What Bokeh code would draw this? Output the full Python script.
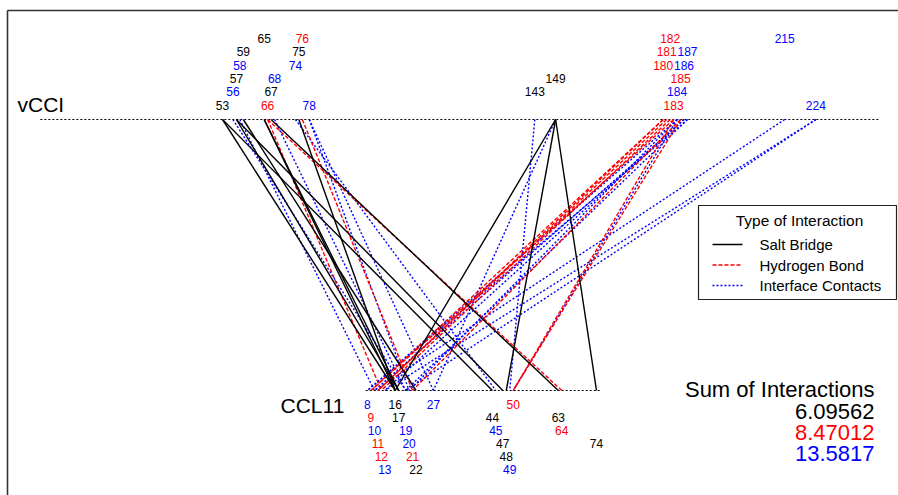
from bokeh.plotting import figure
from bokeh.models import Range1d, ColumnDataSource
from bokeh.embed import file_html
from bokeh.resources import INLINE
from bokeh.core.properties import value

# Residues along each chain and the interaction class used to colour each label
# (S = salt bridge, H = hydrogen bond, C = interface contact)
vcci_res = [53, 56, 57, 58, 59, 65, 66, 67, 68, 74, 75, 76, 78,
            143, 149, 180, 181, 182, 183, 184, 185, 186, 187, 215, 224]
vcci_type = ["S", "C", "S", "C", "S", "S", "H", "S", "C", "C", "S", "H", "C",
             "S", "S", "H", "H", "H", "H", "C", "H", "C", "C", "C", "C"]
ccl11_res = [8, 9, 10, 11, 12, 13, 16, 17, 19, 20, 21, 22, 27,
             44, 45, 47, 48, 49, 50, 63, 64, 74]
ccl11_type = ["C", "H", "C", "H", "H", "C", "S", "S", "C", "C", "H", "S", "C",
              "S", "C", "S", "S", "C", "H", "S", "H", "S"]

# Interacting pairs (vCCI residue, CCL11 residue)
salt_bridges = [(53, 44), (57, 47), (53, 16), (57, 17), (59, 22), (65, 16),
                (65, 17), (67, 63), (75, 16), (149, 16), (149, 48), (149, 74)]
h_bonds = [(66, 64), (66, 12), (76, 21), (180, 9), (181, 11), (182, 12),
           (183, 9), (183, 50), (185, 50), (185, 21), (180, 11)]
contacts = [(56, 19), (58, 10), (68, 19), (74, 45), (78, 27), (78, 20),
            (184, 8), (184, 50), (186, 10), (186, 13), (187, 19), (187, 8),
            (184, 20), (215, 10), (224, 13), (224, 19), (149, 27), (143, 49)]

interaction_names = ["Salt Bridge", "Hydrogen Bond", "Interface Contacts"]
interaction_sums = [6.09562, 8.47012, 13.5817]

# ---- layout of the two chains on the canvas ----
PX_PER_RES = 3.47
TOP_X0, TOP_Y = 38.1, 119.0        # vCCI baseline
BOT_X0, BOT_Y = 339.2, 390.0       # CCL11 baseline
FONT = "Liberation Sans"
COLORS = {"S": "#000000", "H": "#ff0000", "C": "#0000ff"}
DASHES = {"S": "solid", "H": "4 2", "C": "2 2"}


def top_x(r):
    return TOP_X0 + r * PX_PER_RES


def bot_x(r):
    return BOT_X0 + r * PX_PER_RES


p = figure(width=898, height=495, output_backend="svg", toolbar_location=None,
           x_range=Range1d(0, 898), y_range=Range1d(495, 0),
           min_border=0, outline_line_color=None)
p.axis.visible = False
p.grid.visible = False
p.background_fill_color = "white"

# frame edges
p.segment(x0=[7, 7], y0=[10, 10], x1=[898, 7], y1=[10, 495],
          line_color="#333333", line_width=1.6)

# chain baselines
p.segment(x0=[top_x(0.5)], y0=[TOP_Y], x1=[top_x(242)], y1=[TOP_Y],
          line_color="black", line_dash="2 2", line_width=1)
p.segment(x0=[bot_x(7.5)], y0=[BOT_Y], x1=[bot_x(75.5)], y1=[BOT_Y],
          line_color="black", line_dash="2 2", line_width=1)

# interaction lines
for kind, pairs in (("C", contacts), ("H", h_bonds), ("S", salt_bridges)):
    src = ColumnDataSource(dict(
        x0=[top_x(a) for a, b in pairs], y0=[TOP_Y] * len(pairs),
        x1=[bot_x(b) for a, b in pairs], y1=[BOT_Y] * len(pairs)))
    p.segment(x0="x0", y0="y0", x1="x1", y1="y1", source=src,
              line_color=COLORS[kind], line_dash=DASHES[kind], line_width=1.4)

# residue labels, stacked in a repeating six-row pattern
top_src = ColumnDataSource(dict(
    x=[top_x(r) for r in vcci_res],
    y=[TOP_Y - 14.5 - (i % 6) * 13.3 for i in range(len(vcci_res))],
    t=[str(r) for r in vcci_res],
    c=[COLORS[k] for k in vcci_type]))
p.text(x="x", y="y", text="t", text_color="c", source=top_src,
       text_font=value(FONT), text_font_size="12px",
       text_align="center", text_baseline="middle")

bot_src = ColumnDataSource(dict(
    x=[bot_x(r) for r in ccl11_res],
    y=[BOT_Y + 14 + (i % 6) * 13 for i in range(len(ccl11_res))],
    t=[str(r) for r in ccl11_res],
    c=[COLORS[k] for k in ccl11_type]))
p.text(x="x", y="y", text="t", text_color="c", source=bot_src,
       text_font=value(FONT), text_font_size="12px",
       text_align="center", text_baseline="middle")

# chain names
p.text(x=[17], y=[104], text=["vCCI"], text_font=value(FONT),
       text_font_size="21px", text_baseline="middle", text_color="black")
p.text(x=[280], y=[405], text=["CCL11"], text_font=value(FONT),
       text_font_size="21px", text_baseline="middle", text_color="black")

# legend box
p.quad(left=[698], right=[896], top=[205], bottom=[299],
       fill_color="white", line_color="#222222", line_width=1.2)
p.text(x=[799], y=[220], text=["Type of Interaction"], text_font=value(FONT),
       text_font_size="15.5px", text_align="center", text_baseline="middle")
for i, (kind, name) in enumerate(zip(["S", "H", "C"], interaction_names)):
    y = 244 + i * 20.5
    p.segment(x0=[712], y0=[y], x1=[742], y1=[y], line_color=COLORS[kind],
              line_dash=DASHES[kind], line_width=1.3)
    p.text(x=[759], y=[y], text=[name], text_font=value(FONT),
           text_font_size="15px", text_baseline="middle")

# totals
p.text(x=[874], y=[389], text=["Sum of Interactions"], text_font=value(FONT),
       text_font_size="22px", text_align="right", text_baseline="middle")
p.text(x=[874] * 3, y=[411, 432, 453],
       text=[f"{v:g}" for v in interaction_sums],
       text_color=[COLORS[k] for k in ["S", "H", "C"]],
       text_font=value(FONT), text_font_size="22px",
       text_align="right", text_baseline="middle")

open("out.html", "w").write(file_html(p, INLINE))
